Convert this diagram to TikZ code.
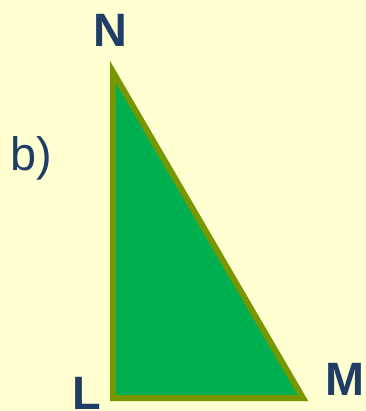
\documentclass[tikz,border=0pt]{standalone}
\usepackage{fontspec}
\setmainfont{Liberation Sans}
\usepackage{tikz}
\usepackage{xcolor}

\definecolor{bgyellow}{HTML}{FFFFD2}
\definecolor{trigreen}{HTML}{00B050}
\definecolor{triolive}{HTML}{779701}
\definecolor{labelblue}{HTML}{1F3D66}

\begin{document}
\begin{tikzpicture}[x=1bp, y=-1bp,
    vertexlabel/.style={text=labelblue, font=\fontsize{47}{50}\selectfont\bfseries, anchor=base, inner sep=0pt},
    partlabel/.style={text=labelblue, font=\fontsize{47}{50}\selectfont, anchor=base west, inner sep=0pt}]

    % Background and picture size
    \fill[bgyellow] (0,0) rectangle (366,411);
    \useasboundingbox (0,0) rectangle (366,411);

    % Coordinates of the vertices
    \coordinate (N) at (113,72);
    \coordinate (L) at (113,398);
    \coordinate (M) at (303,398);

    % Right triangle, right angle at L
    \draw[fill=trigreen, draw=triolive, line width=6bp, line join=miter] (N) -- (L) -- (M) -- cycle;

    % Label vertices
    \node[vertexlabel] (labelN) at (110,46) {N};
    \node[vertexlabel] (labelL) at (87,409) {L};
    \node[vertexlabel] (labelM) at (345,395) {M};

    % Part label
    \node[partlabel] (partb) at (10,170) {b)};

\end{tikzpicture}
\end{document}
